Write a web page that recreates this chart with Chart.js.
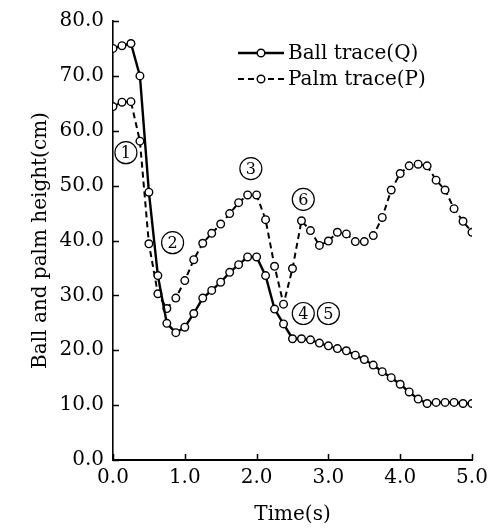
<!DOCTYPE html>
<html lang="en">
<head>
    <meta charset="UTF-8">
    <title>Ball and palm trace</title>
    <style>
        body { margin: 0; background: #fff; }
        canvas { display: block; }
    </style>
</head>
<body>
    <canvas id="traceChart" width="495" height="531"></canvas>

    <script src="https://cdn.jsdelivr.net/npm/chart.js"></script>
    <script>
        // time samples (s)
        const times = [0.0, 0.125, 0.25, 0.375, 0.5, 0.625, 0.75, 0.875, 1.0, 1.125,
                       1.25, 1.375, 1.5, 1.625, 1.75, 1.875, 2.0, 2.125, 2.25, 2.375,
                       2.5, 2.625, 2.75, 2.875, 3.0, 3.125, 3.25, 3.375, 3.5, 3.625,
                       3.75, 3.875, 4.0, 4.125, 4.25, 4.375, 4.5, 4.625, 4.75, 4.875, 5.0];

        // Ball trace (Q), cm
        const ballHeight = [75.0, 75.5, 75.9, 70.0, 48.8, 33.6, 24.9, 23.2, 24.2, 26.7,
                            29.5, 30.9, 32.4, 34.2, 35.6, 37.0, 37.0, 33.6, 27.5, 24.8,
                            22.1, 22.1, 21.9, 21.3, 20.8, 20.3, 19.9, 19.1, 18.3, 17.3,
                            16.1, 15.0, 13.8, 12.4, 11.1, 10.3, 10.5, 10.5, 10.5, 10.3, 10.3];

        // Palm trace (P), cm
        const palmHeight = [64.4, 65.2, 65.3, 58.1, 39.4, 30.3, 27.6, 29.5, 32.7, 36.5,
                            39.5, 41.3, 43.0, 44.9, 46.9, 48.3, 48.3, 43.8, 35.3, 28.4,
                            34.9, 43.6, 41.8, 39.1, 39.9, 41.5, 41.2, 39.8, 39.8, 40.9,
                            44.2, 49.2, 52.2, 53.6, 53.9, 53.6, 51.0, 49.2, 45.8, 43.5, 41.5];

        const seriesNames = ['Ball trace(Q)', 'Palm trace(P)'];

        // circled phase numbers, placed in data units
        const markLabels = ['1', '2', '3', '4', '5', '6'];
        const markTimes = [0.18, 0.83, 1.92, 2.65, 3.0, 2.65];
        const markHeights = [56.0, 39.6, 53.1, 26.7, 26.7, 47.5];

        const FONT = 'DejaVu Serif';

        function toPoints(ys) {
            return times.map((t, i) => ({ x: t, y: ys[i] }));
        }

        // inward tick marks, circled numbers, legend
        const overlay = {
            id: 'overlay',
            afterDraw(chart) {
                const ctx = chart.ctx;
                const xs = chart.scales.x, ys = chart.scales.y;
                const area = chart.chartArea;
                ctx.save();
                ctx.strokeStyle = '#000';
                ctx.fillStyle = '#000';

                // ticks pointing into the plot
                ctx.lineWidth = 1.5;
                ctx.beginPath();
                xs.ticks.forEach(t => {
                    const px = Math.round(xs.getPixelForValue(t.value)) + 0.5;
                    ctx.moveTo(px, area.bottom);
                    ctx.lineTo(px, area.bottom - 6);
                });
                ys.ticks.forEach(t => {
                    const py = Math.round(ys.getPixelForValue(t.value)) + 0.5;
                    ctx.moveTo(area.left, py);
                    ctx.lineTo(area.left + 6, py);
                });
                ctx.stroke();

                ctx.textAlign = 'center';
                ctx.textBaseline = 'middle';
                ctx.font = '16px ' + FONT;
                markLabels.forEach((lab, i) => {
                    const px = xs.getPixelForValue(markTimes[i]);
                    const py = ys.getPixelForValue(markHeights[i]);
                    ctx.lineWidth = 1.2;
                    ctx.beginPath();
                    ctx.arc(px, py, 11, 0, Math.PI * 2);
                    ctx.stroke();
                    ctx.fillText(lab, px, py + 1);
                });

                // legend
                ctx.textAlign = 'left';
                ctx.font = '20px ' + FONT;
                chart.data.datasets.forEach((ds, i) => {
                    const y = 53 + i * 26;
                    ctx.lineWidth = ds.borderWidth;
                    ctx.setLineDash(ds.borderDash || []);
                    ctx.beginPath();
                    ctx.moveTo(238, y);
                    ctx.lineTo(284, y);
                    ctx.stroke();
                    ctx.setLineDash([]);
                    ctx.lineWidth = ds.pointBorderWidth;
                    ctx.fillStyle = '#fff';
                    ctx.beginPath();
                    ctx.arc(261, y, ds.pointRadius, 0, Math.PI * 2);
                    ctx.fill();
                    ctx.stroke();
                    ctx.fillStyle = '#000';
                    ctx.fillText(ds.label, 288, y + 1);
                });
                ctx.restore();
            }
        };

        new Chart(document.getElementById('traceChart'), {
            type: 'line',
            data: {
                datasets: [{
                    label: seriesNames[0],
                    data: toPoints(ballHeight),
                    borderColor: '#000',
                    borderWidth: 2.4,
                    pointRadius: 3.8,
                    pointBackgroundColor: '#fff',
                    pointBorderColor: '#000',
                    pointBorderWidth: 1.4,
                    tension: 0
                }, {
                    label: seriesNames[1],
                    data: toPoints(palmHeight),
                    borderColor: '#000',
                    borderWidth: 2,
                    borderDash: [6, 4],
                    pointRadius: 3.8,
                    pointBackgroundColor: '#fff',
                    pointBorderColor: '#000',
                    pointBorderWidth: 1.4,
                    tension: 0
                }]
            },
            options: {
                responsive: false,
                animation: false,
                devicePixelRatio: 1,
                layout: { padding: { top: 21, right: 23, left: 0, bottom: 0 } },
                plugins: {
                    legend: { display: false },
                    tooltip: { enabled: false }
                },
                scales: {
                    x: {
                        type: 'linear',
                        min: 0,
                        max: 5,
                        afterFit(scale) { scale.height = 71; },
                        ticks: {
                            stepSize: 1,
                            padding: 6,
                            color: '#000',
                            font: { family: FONT, size: 20 },
                            callback: v => v.toFixed(1)
                        },
                        grid: { display: false, drawTicks: false },
                        border: { color: '#000', width: 2 },
                        title: {
                            display: true,
                            text: 'Time(s)',
                            color: '#000',
                            font: { family: FONT, size: 20 },
                            padding: { top: 0, bottom: 4 }
                        }
                    },
                    y: {
                        min: 0,
                        max: 80,
                        afterFit(scale) { scale.width = 113; },
                        ticks: {
                            stepSize: 10,
                            padding: 9,
                            color: '#000',
                            font: { family: FONT, size: 20 },
                            callback: v => v.toFixed(1)
                        },
                        grid: { display: false, drawTicks: false },
                        border: { color: '#000', width: 1.6 },
                        title: {
                            display: true,
                            text: 'Ball and palm height(cm)',
                            color: '#000',
                            font: { family: FONT, size: 20 },
                            padding: { top: 29, bottom: 0 }
                        }
                    }
                }
            },
            plugins: [overlay]
        });
    </script>
</body>
</html>
